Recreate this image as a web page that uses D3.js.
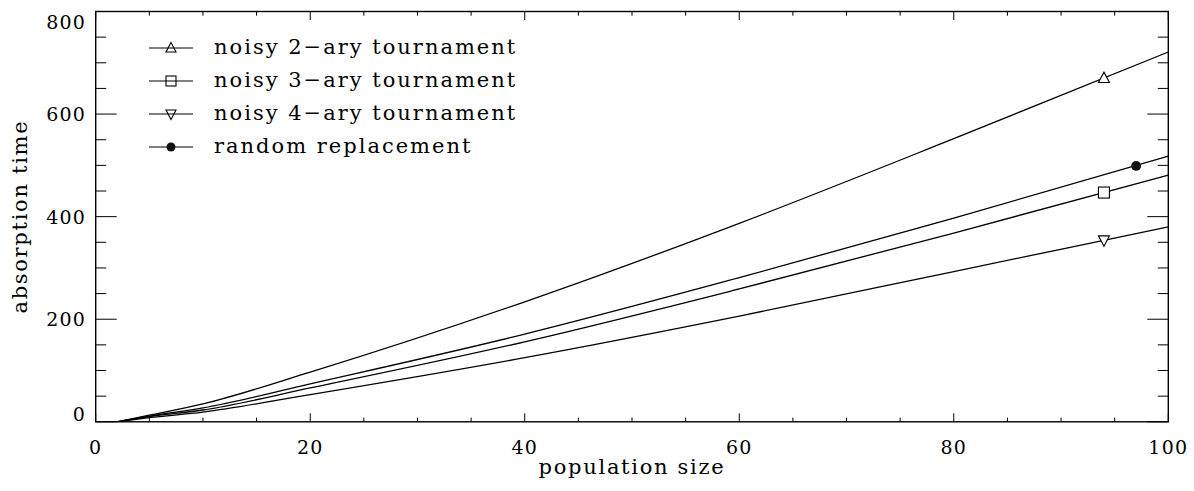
<!DOCTYPE html>
<html><head><meta charset="utf-8">
<script src="https://cdn.jsdelivr.net/npm/d3@7/dist/d3.min.js"></script>
<style>
body{margin:0;background:#fff;}
text{font-family:"DejaVu Serif",serif;fill:#000;}
</style></head>
<body><svg id="c" width="1194" height="491"></svg>
<script>
const popSize = [2, 5, 10, 20, 40, 60, 80, 100];
const tour2 = [0, 13, 35, 97, 234, 387, 552, 721];
const tour3 = [0, 10, 23, 66, 156, 259, 368, 481];
const tour4 = [0, 8, 19, 53, 125, 206, 293, 380];
const randomRep = [0, 11, 27, 74, 171, 281, 397, 518];
const seriesNames = ["noisy 2\u2212ary tournament","noisy 3\u2212ary tournament","noisy 4\u2212ary tournament","random replacement"];
const markerShapes = ["tri","square","itri","circle"];
const markerX = [94, 94, 94, 97];
const markerY = [670, 447, 354, 499];
const xTicks = [0,20,40,60,80,100];
const yTicks = [0,200,400,600,800];

const svg = d3.select("#c");
const L=95.7, R=1168.3, T=11.5, B=421.8;
const x = d3.scaleLinear().domain([0,100]).range([L,R]);
const y = d3.scaleLinear().domain([0,800]).range([B,T]);
const all = [tour2,tour3,tour4,randomRep];

const g = svg.append("g");
g.append("rect").attr("x",L).attr("y",T).attr("width",R-L).attr("height",B-T)
 .attr("fill","none").attr("stroke","#000").attr("stroke-width",1.4);

const xMinor = d3.range(0,101,5), yMinor = d3.range(0,801,50);
xMinor.forEach(v=>{
  const len = v%20===0 ? 8.5 : 4.2;
  g.append("line").attr("x1",x(v)).attr("x2",x(v)).attr("y1",B).attr("y2",B-len).attr("stroke","#000").attr("stroke-width",1);
  g.append("line").attr("x1",x(v)).attr("x2",x(v)).attr("y1",T).attr("y2",T+len).attr("stroke","#000").attr("stroke-width",1);
});
yMinor.forEach(v=>{
  const len = v%200===0 ? 21 : 10.5;
  g.append("line").attr("x1",L).attr("x2",L+len).attr("y1",y(v)).attr("y2",y(v)).attr("stroke","#000").attr("stroke-width",1);
  g.append("line").attr("x1",R).attr("x2",R-len).attr("y1",y(v)).attr("y2",y(v)).attr("stroke","#000").attr("stroke-width",1);
});
const fs = 19, fl = 21;
xTicks.forEach(v=>{
  g.append("text").attr("x",x(v)).attr("y",454).attr("text-anchor","middle")
   .attr("font-size",fs).attr("letter-spacing",1.2).text(v);
});
yTicks.forEach(v=>{
  let yy = y(v)+7;
  if(v===800) yy = y(v)+17;
  if(v===0) yy = y(v)-1;
  g.append("text").attr("x",86).attr("y",yy).attr("text-anchor","end")
   .attr("font-size",fs).attr("letter-spacing",1.2).text(v);
});
g.append("text").attr("x",(L+R)/2).attr("y",474).attr("text-anchor","middle")
 .attr("font-size",fl).attr("letter-spacing",1.7).text("population size");
g.append("text").attr("transform",`translate(27,${(T+B)/2}) rotate(-90)`).attr("text-anchor","middle")
 .attr("font-size",fl).attr("letter-spacing",1.7).text("absorption time");

svg.append("clipPath").attr("id","cp").append("rect").attr("x",L).attr("y",T).attr("width",R-L).attr("height",B-T);
const line = d3.line().x((d,i)=>x(popSize[i])).y(d=>y(d)).curve(d3.curveMonotoneX);
all.forEach(s=>{
  g.append("path").attr("d",line(s)).attr("fill","none").attr("stroke","#000").attr("stroke-width",1.3).attr("clip-path","url(#cp)");
});

function marker(shape,cx,cy,s,fill){
  if(shape==="tri") g.append("path").attr("d",`M${cx},${cy-s*1.1}L${cx+s},${cy+s*0.8}L${cx-s},${cy+s*0.8}Z`).attr("fill",fill).attr("stroke","#000").attr("stroke-width",1.1);
  else if(shape==="itri") g.append("path").attr("d",`M${cx},${cy+s*1.1}L${cx+s},${cy-s*0.8}L${cx-s},${cy-s*0.8}Z`).attr("fill",fill).attr("stroke","#000").attr("stroke-width",1.1);
  else if(shape==="square") g.append("rect").attr("x",cx-s).attr("y",cy-s).attr("width",2*s).attr("height",2*s).attr("fill",fill).attr("stroke","#000").attr("stroke-width",1.1);
  else g.append("circle").attr("cx",cx).attr("cy",cy).attr("r",s*0.9).attr("fill","#111");
}
markerShapes.forEach((sh,i)=>marker(sh,x(markerX[i]),y(markerY[i]),5.5,"#fff"));

const legY=[48,81,114,147];
seriesNames.forEach((n,i)=>{
  g.append("line").attr("x1",149).attr("x2",193).attr("y1",legY[i]).attr("y2",legY[i]).attr("stroke","#000").attr("stroke-width",1.2);
  marker(markerShapes[i],171,legY[i],5,"none");
  g.append("text").attr("x",214).attr("y",legY[i]+6).attr("font-size",fl).attr("letter-spacing",2).text(n);
});
</script></body></html>
